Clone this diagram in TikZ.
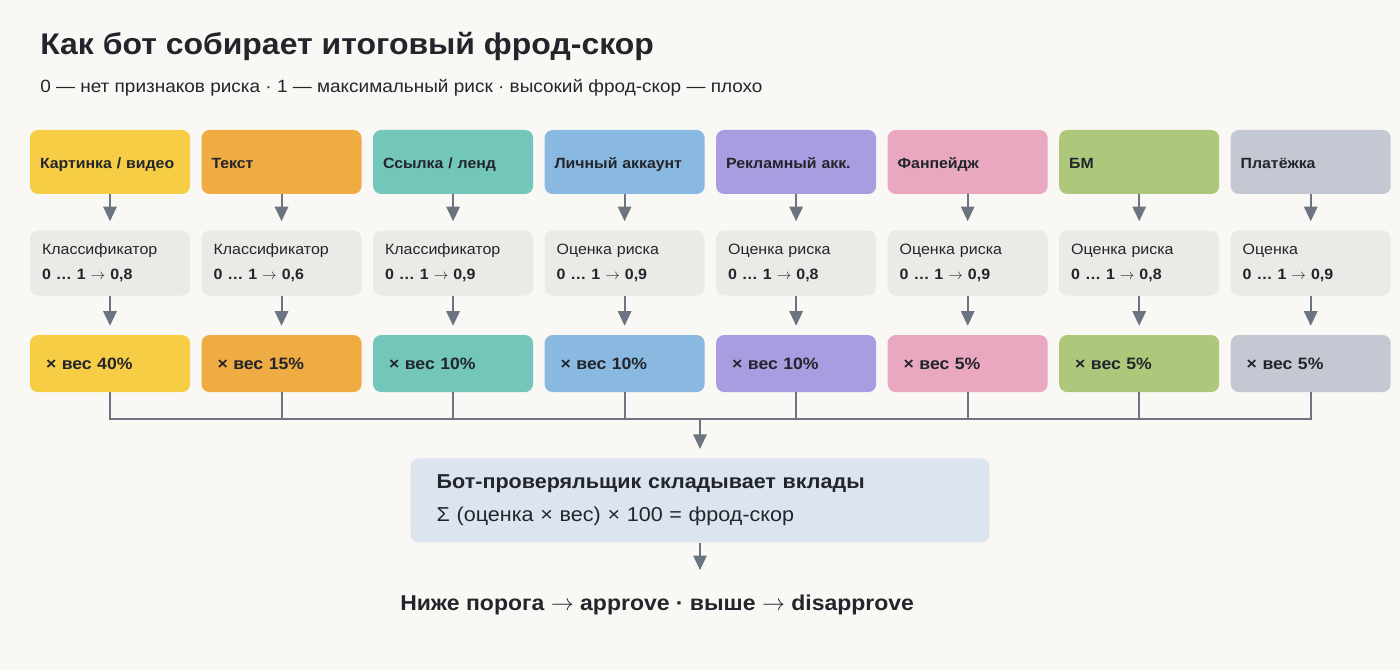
\documentclass[tikz,border=0pt]{standalone}
\usepackage{fontspec}
\setmainfont{Liberation Sans}[FakeStretch=1.07]
\usetikzlibrary{arrows.meta, positioning}
\definecolor{bg}{HTML}{FAF8F5}
\definecolor{ink}{HTML}{22252B}
\definecolor{wire}{HTML}{6B7480}
\definecolor{cest}{HTML}{EBEAE6}
\definecolor{csum}{HTML}{DCE4F0}
\definecolor{cimg}{HTML}{F7CD46}
\definecolor{ctxt}{HTML}{EFAC43}
\definecolor{clnk}{HTML}{72C6BA}
\definecolor{cacc}{HTML}{89B8E1}
\definecolor{cadv}{HTML}{A99CE0}
\definecolor{cfan}{HTML}{E9A8BF}
\definecolor{cbm}{HTML}{ADC87A}
\definecolor{cpay}{HTML}{C4C8D2}
\newcommand\arw{$\rightarrow$}

\begin{document}
\begin{tikzpicture}[x=0.75pt, y=0.75pt,
    src/.style={rectangle,rounded corners=6pt,minimum width=120pt,minimum height=48pt,text width=105pt,inner xsep=7.5pt,align=left,text=ink,text height=10.5pt,text depth=0.5pt,font=\bfseries\fontsize{11.1}{14}\selectfont},
    est/.style={rectangle,rounded corners=6pt,fill=cest,minimum width=120pt,minimum height=48.75pt,text width=102pt,inner xsep=9pt,align=left,text=ink,font=\fontsize{11.2}{18.75}\selectfont},
    wgt/.style={rectangle,rounded corners=6pt,minimum width=120pt,minimum height=42.75pt,text width=96pt,inner xsep=12pt,align=left,text=ink,font=\bfseries\fontsize{12.35}{14}\selectfont},
    sumbox/.style={rectangle,rounded corners=6pt,fill=csum,minimum width=434pt,minimum height=63pt,text width=395pt,inner xsep=19.5pt,align=left,text=ink,font=\fontsize{15.1}{24.75}\selectfont},
    arr/.style={draw=wire,line width=1.5pt,-{Triangle[length=11pt,width=10pt]},shorten >=6.75pt},
    bus/.style={draw=wire,line width=1.5pt}]
    \fill[bg] (0,0) rectangle (1400,-670);
    \node (ttl) [anchor=base west,inner sep=0,text=ink,font=\bfseries\fontsize{22.4}{26}\selectfont] at (40,-55) {Как бот собирает итоговый фрод-скор};
    \node (sub) [anchor=base west,inner sep=0,text=ink,font=\fontsize{13.3}{16}\selectfont] at (40,-93) {0 — нет признаков риска · 1 — максимальный риск · высокий фрод-скор — плохо};
    % sources
    \node (img) [src,fill=cimg] at (110,-162) {Картинка / видео};
    \node (txt) [src,fill=ctxt,right=8.25pt of img] {Текст};
    \node (lnk) [src,fill=clnk,right=8.25pt of txt] {Ссылка / ленд};
    \node (acc) [src,fill=cacc,right=8.25pt of lnk] {Личный аккаунт};
    \node (adv) [src,fill=cadv,right=8.25pt of acc] {Рекламный акк.};
    \node (fan) [src,fill=cfan,right=8.25pt of adv] {Фанпейдж};
    \node (bm)  [src,fill=cbm,right=8.25pt of fan] {БМ};
    \node (pay) [src,fill=cpay,right=8.25pt of bm] {Платёжка};
    % scores
    \node (imgs) [est,below=27pt of img] {Классификатор\\\textbf{0 … 1 \arw{} 0,8}};
    \node (txts) [est,below=27pt of txt] {Классификатор\\\textbf{0 … 1 \arw{} 0,6}};
    \node (lnks) [est,below=27pt of lnk] {Классификатор\\\textbf{0 … 1 \arw{} 0,9}};
    \node (accs) [est,below=27pt of acc] {Оценка риска\\\textbf{0 … 1 \arw{} 0,9}};
    \node (advs) [est,below=27pt of adv] {Оценка риска\\\textbf{0 … 1 \arw{} 0,8}};
    \node (fans) [est,below=27pt of fan] {Оценка риска\\\textbf{0 … 1 \arw{} 0,9}};
    \node (bms)  [est,below=27pt of bm] {Оценка риска\\\textbf{0 … 1 \arw{} 0,8}};
    \node (pays) [est,below=27pt of pay] {Оценка\\\textbf{0 … 1 \arw{} 0,9}};
    % weights
    \node (imgw) [wgt,fill=cimg,below=29.25pt of imgs] {× вес 40\%};
    \node (txtw) [wgt,fill=ctxt,below=29.25pt of txts] {× вес 15\%};
    \node (lnkw) [wgt,fill=clnk,below=29.25pt of lnks] {× вес 10\%};
    \node (accw) [wgt,fill=cacc,below=29.25pt of accs] {× вес 10\%};
    \node (advw) [wgt,fill=cadv,below=29.25pt of advs] {× вес 10\%};
    \node (fanw) [wgt,fill=cfan,below=29.25pt of fans] {× вес 5\%};
    \node (bmw)  [wgt,fill=cbm,below=29.25pt of bms] {× вес 5\%};
    \node (payw) [wgt,fill=cpay,below=29.25pt of pays] {× вес 5\%};
    \coordinate (bus) at (700,-419);
    \node (sum) [sumbox,below=29.25pt of bus] {\textbf{Бот-проверяльщик складывает вклады}\\Σ (оценка × вес) × 100 = фрод-скор};
    \node (res) [anchor=base west,inner sep=0,text=ink,font=\bfseries\fontsize{16.1}{19}\selectfont] at (400,-610) {Ниже порога \arw{} approve · выше \arw{} disapprove};
    \draw[arr] (img) -- (imgs);
    \draw[arr] (txt) -- (txts);
    \draw[arr] (lnk) -- (lnks);
    \draw[arr] (acc) -- (accs);
    \draw[arr] (adv) -- (advs);
    \draw[arr] (fan) -- (fans);
    \draw[arr] (bm) -- (bms);
    \draw[arr] (pay) -- (pays);
    \draw[arr] (imgs) -- (imgw);
    \draw[arr] (txts) -- (txtw);
    \draw[arr] (lnks) -- (lnkw);
    \draw[arr] (accs) -- (accw);
    \draw[arr] (advs) -- (advw);
    \draw[arr] (fans) -- (fanw);
    \draw[arr] (bms) -- (bmw);
    \draw[arr] (pays) -- (payw);
    \draw[bus] (imgw.south) |- (bus);
    \draw[bus] (txtw.south) |- (bus);
    \draw[bus] (lnkw.south) |- (bus);
    \draw[bus] (accw.south) |- (bus);
    \draw[bus] (advw.south) |- (bus);
    \draw[bus] (fanw.south) |- (bus);
    \draw[bus] (bmw.south) |- (bus);
    \draw[bus] (payw.south) |- (bus);
    \draw[arr] (bus) -- (sum);
    \draw[arr,shorten >=18pt] (sum) -- (sum.south |- res.north);
\end{tikzpicture}
\end{document}
